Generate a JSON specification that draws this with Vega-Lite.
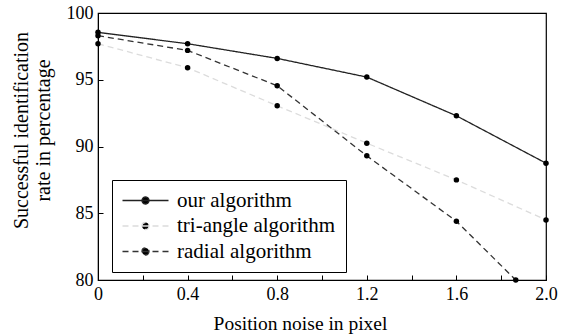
{
  "$schema": "https://vega.github.io/schema/vega-lite/v6.json",
  "width": 448,
  "height": 267,
  "autosize": "none",
  "padding": {"left": 98, "top": 13, "right": 22, "bottom": 56},
  "background": "white",
  "config": {
    "font": "Liberation Serif, serif",
    "view": {"stroke": "black", "strokeWidth": 1.2},
    "axis": {
      "domainColor": "black",
      "tickColor": "black",
      "labelColor": "black",
      "titleColor": "black",
      "labelFont": "Liberation Serif, serif",
      "titleFont": "Liberation Serif, serif",
      "labelFontSize": 18,
      "titleFontSize": 19.5,
      "titleFontWeight": "normal",
      "grid": false,
      "tickSize": -5
    },
    "legend": {
      "labelFont": "Liberation Serif, serif"
    }
  },
  "data": {
    "values": [
      {"series": "our algorithm", "noise": 0, "rate": 98.55},
      {"series": "our algorithm", "noise": 0.4, "rate": 97.7},
      {"series": "our algorithm", "noise": 0.8, "rate": 96.6},
      {"series": "our algorithm", "noise": 1.2, "rate": 95.2},
      {"series": "our algorithm", "noise": 1.6, "rate": 92.3},
      {"series": "our algorithm", "noise": 2.0, "rate": 88.75},
      {"series": "tri-angle algorithm", "noise": 0, "rate": 97.7},
      {"series": "tri-angle algorithm", "noise": 0.4, "rate": 95.9},
      {"series": "tri-angle algorithm", "noise": 0.8, "rate": 93.05},
      {"series": "tri-angle algorithm", "noise": 1.2, "rate": 90.25},
      {"series": "tri-angle algorithm", "noise": 1.6, "rate": 87.5},
      {"series": "tri-angle algorithm", "noise": 2.0, "rate": 84.5},
      {"series": "radial algorithm", "noise": 0, "rate": 98.3},
      {"series": "radial algorithm", "noise": 0.4, "rate": 97.2},
      {"series": "radial algorithm", "noise": 0.8, "rate": 94.55},
      {"series": "radial algorithm", "noise": 1.2, "rate": 89.3},
      {"series": "radial algorithm", "noise": 1.6, "rate": 84.4},
      {"series": "radial algorithm", "noise": 1.865, "rate": 80.0}
    ]
  },
  "encoding": {
    "x": {
      "field": "noise",
      "type": "quantitative",
      "scale": {"domain": [0, 2], "nice": false, "zero": false},
      "axis": {
        "title": "Position noise in pixel",
        "titleX": 202,
        "titleAnchor": null,
        "titleAlign": "center",
        "values": [0, 0.2, 0.4, 0.6, 0.8, 1.0, 1.2, 1.4, 1.6, 1.8, 2.0],
        "labelExpr": "round(datum.value * 10) % 4 != 0 ? '' : (datum.value == 0 ? '0' : format(datum.value, '.1f'))",
        "labelPadding": 10,
        "titlePadding": 11,
        "labelFlush": false
      }
    },
    "y": {
      "field": "rate",
      "type": "quantitative",
      "scale": {"domain": [80, 100], "nice": false, "zero": false},
      "axis": {
        "title": ["Successful identification", "rate in percentage"],
        "titleFontSize": 20,
        "titleY": 117,
        "titleAlign": "center",
        "values": [80, 85, 90, 95, 100],
        "labelPadding": 10,
        "titlePadding": 13,
        "labelFlush": false
      }
    }
  },
  "layer": [
    {
      "mark": {"type": "line", "strokeWidth": 1.3},
      "encoding": {
        "color": {
          "field": "series",
          "type": "nominal",
          "scale": {
            "domain": ["our algorithm", "tri-angle algorithm", "radial algorithm"],
            "range": ["#222222", "#dcdcdc", "#333333"]
          },
          "legend": {
            "title": null,
            "orient": "none",
            "legendX": 14,
            "legendY": 167,
            "strokeColor": "black",
            "fillColor": "white",
            "padding": 10,
            "labelFont": "Liberation Serif, serif",
            "labelFontSize": 21,
            "labelColor": "black",
            "labelOffset": 21,
            "rowPadding": 3.5,
            "symbolType": "M-4.6,0L4.6,0M0.7,0A0.7,0.7 0 1,1 -0.7,0A0.7,0.7 0 1,1 0.7,0Z",
            "symbolSize": 100,
            "symbolOffset": 13,
            "symbolStrokeWidth": 1.3,
            "symbolFillColor": "black",
            "encode": {"symbols": {"update": {"fill": {"value": "black"}}}}
          }
        },
        "strokeDash": {
          "field": "series",
          "type": "nominal",
          "scale": {
            "domain": ["our algorithm", "tri-angle algorithm", "radial algorithm"],
            "range": [[1, 0], [6, 4], [6, 4]]
          },
          "legend": null
        }
      }
    },
    {
      "mark": {"type": "point", "filled": true, "color": "black", "size": 30, "opacity": 1},
      "encoding": {}
    }
  ]
}
